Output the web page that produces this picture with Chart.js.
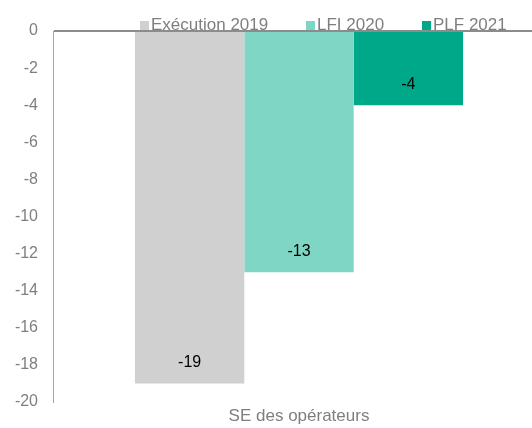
<!DOCTYPE html>
<html>
<head>
<meta charset="utf-8">
<script src="https://cdn.jsdelivr.net/npm/chart.js@4/dist/chart.umd.min.js"></script>
<style>
  html, body { margin: 0; padding: 0; background: #fff; overflow: hidden; }
  #wrap { width: 545px; height: 428px; }
</style>
</head>
<body>
<div id="wrap"><canvas id="barChart" width="545" height="428"></canvas></div>
<script>
// Chart data
const categories = ['SE des opérateurs'];
const seriesNames = ['Exécution 2019', 'LFI 2020', 'PLF 2021'];
const execution2019 = [-19];
const lfi2020 = [-13];
const plf2021 = [-4];
const yTicks = [0, -2, -4, -6, -8, -10, -12, -14, -16, -18, -20];

const colors = ['#d0d0d0', '#7fd6c4', '#00a88a'];
const textGrey = '#7f7f7f';
const font = 'Liberation Sans, Arial, sans-serif';

// Value labels drawn inside the end of each bar
const valueLabels = {
    id: 'valueLabels',
    afterDatasetsDraw(chart) {
        const ctx = chart.ctx;
        ctx.save();
        ctx.font = '16px ' + font;
        ctx.fillStyle = '#000';
        ctx.textAlign = 'center';
        ctx.textBaseline = 'middle';
        chart.data.datasets.forEach((ds, i) => {
            chart.getDatasetMeta(i).data.forEach((bar, j) => {
                ctx.fillText(String(ds.data[j]), bar.x, bar.y - 21);
            });
        });
        ctx.restore();
    }
};

// Legend laid over the top of the plot
const topLegend = {
    id: 'topLegend',
    afterDraw(chart) {
        const ctx = chart.ctx;
        const xs = [140, 306, 422];
        ctx.save();
        ctx.font = '17px ' + font;
        ctx.textBaseline = 'middle';
        chart.data.datasets.forEach((ds, i) => {
            ctx.fillStyle = ds.backgroundColor;
            ctx.fillRect(xs[i], 21, 9, 9);
            ctx.fillStyle = textGrey;
            ctx.fillText(ds.label, xs[i] + 11, 25);
        });
        ctx.restore();
    }
};

const barChartCtx = document.getElementById('barChart').getContext('2d');
new Chart(barChartCtx, {
    type: 'bar',
    data: {
        labels: categories,
        datasets: [
            { label: seriesNames[0], data: execution2019, backgroundColor: colors[0] },
            { label: seriesNames[1], data: lfi2020, backgroundColor: colors[1] },
            { label: seriesNames[2], data: plf2021, backgroundColor: colors[2] },
        ]
    },
    options: {
        responsive: false,
        animation: false,
        layout: { padding: { top: 31, left: 0, right: 0, bottom: 0 } },
        datasets: {
            bar: { barPercentage: 1, categoryPercentage: 0.667 }
        },
        plugins: {
            legend: { display: false },
            tooltip: { enabled: false },
        },
        scales: {
            x: {
                afterFit: axis => { axis.height = 26; },
                grid: { display: false },
                border: { display: false },
                ticks: { color: textGrey, font: { size: 17, family: font, lineHeight: 0.7 }, padding: 0 },
            },
            y: {
                min: -20,
                max: 0,
                afterBuildTicks: axis => { axis.ticks = yTicks.map(v => ({ value: v })); },
                afterFit: axis => { axis.width = 53; },
                grid: {
                    drawTicks: false,
                    color: c => c.tick && c.tick.value === 0 ? '#8c8c8c' : 'rgba(0,0,0,0)',
                    lineWidth: 2,
                },
                border: { display: true, color: '#a6a6a6', width: 1 },
                ticks: { color: textGrey, font: { size: 16, family: font }, padding: 15 },
            }
        }
    },
    plugins: [valueLabels, topLegend]
});
</script>
</body>
</html>
